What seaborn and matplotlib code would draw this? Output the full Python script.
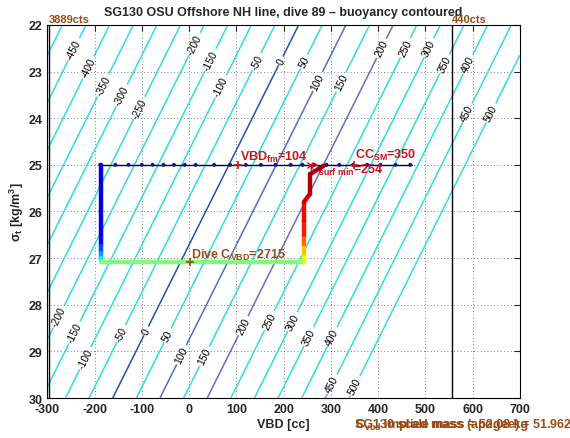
import numpy as np
import matplotlib
matplotlib.use("Agg")
import matplotlib.pyplot as plt
from matplotlib.collections import LineCollection
import seaborn as sns

# buoyancy field: neutral VBD at sigma=22 and shift of neutral VBD per sigma unit
vbd_neutral_22 = 232.0
dvbd_dsigma = 49.2
levels = np.arange(-500, 501, 50)
special_levels = {0: "#1f55a8", 100: "#4d6fcc", 200: "#6b6cc4"}

# contour label positions (vbd, sigma)
label_pos = [(-239, 22.55), (-208, 22.94), (-176, 23.33), (-141, 23.52), (-102, 23.80),
             (18, 22.44), (49, 22.77), (71, 23.34), (145, 22.80), (194, 22.77),
             (247, 22.80), (274, 23.22), (324, 23.23), (411, 22.52), (464, 22.52),
             (514, 22.52), (546, 22.87), (595, 22.87), (592, 23.91), (644, 23.91),
             (-271, 28.27), (-236, 28.63), (-215, 29.17), (-141, 28.63), (-91, 28.56),
             (-42, 28.67), (-11, 29.10), (32, 29.10), (123, 28.49), (173, 28.35),
             (222, 28.38), (257, 28.70), (306, 28.70), (303, 29.70), (352, 29.74)]

# dive trace
trace_vbd = [-187, -187, -187, -187, -187, -187, -187, -187, 243, 243, 243, 243, 243, 243, 256, 256, 285]
trace_sigma = [25.0, 25.5, 26.0, 26.5, 26.75, 26.9, 27.0, 27.08, 27.08, 26.9, 26.7, 26.5, 26.2, 25.8, 25.62, 25.2, 25.02]
trace_t = [0.08, 0.08, 0.08, 0.12, 0.2, 0.28, 0.36, 0.5, 0.63, 0.7, 0.8, 0.88, 0.9, 0.93, 0.95, 0.97]

# surface points
surf_vbd = [-188, -156, -128, -100, -77, -54, -32, -9, 14, 53, 87, 120, 152, 183, 215,
            240, 265, 291, 318, 347, 377, 405, 437, 468]
surf_sigma = 25.0
surf_line = [-188, 472]

vbd_fm = 104
c_surf_min = 254
cc_sm = 350
dive_c_vbd = 2715
dive_c_pt = (2, 27.08)
vbd_min_line = -297
vbd_max_line = 557

brown = "#9a4a14"
red = "#c8141e"

sns.set_style("white")
plt.rcParams["font.family"] = ["Liberation Sans", "DejaVu Sans"]
plt.rcParams["mathtext.fontset"] = "custom"
plt.rcParams["mathtext.rm"] = "Liberation Sans"
plt.rcParams["mathtext.bf"] = "Liberation Sans:bold"
plt.rcParams["mathtext.default"] = "regular"
plt.rcParams["axes.unicode_minus"] = False

fig = plt.figure(figsize=(5.7, 4.39), dpi=100)
ax = fig.add_axes([0.083, 0.091, 0.829, 0.850])
ax.set_xlim(-300, 700)
ax.set_ylim(30, 22)

vv, ss = np.meshgrid(np.linspace(-300, 700, 401), np.linspace(22, 30, 161))
buoy = vv - (vbd_neutral_22 - dvbd_dsigma * (ss - 22))
cols = [special_levels.get(int(l), "#30dce2") for l in levels]
cs = ax.contour(vv, ss, buoy, levels=levels, colors=cols, linewidths=1.1)
labels = ax.clabel(cs, fmt=lambda v: "%d" % v, fontsize=7.5, colors="black", inline=True,
                   inline_spacing=2, manual=label_pos)

# orient labels along the lines as they appear on screen
p1 = ax.transData.transform((0, 22))
p2 = ax.transData.transform((-dvbd_dsigma, 23))
ang = np.degrees(np.arctan2(p2[1] - p1[1], p2[0] - p1[0]))
while ang > 90:
    ang -= 180
while ang <= -90:
    ang += 180
for t in labels:
    t.set_rotation(ang)
    t.set_rotation_mode("anchor")
    t.set_ha("center")
    t.set_va("center")

ax.grid(True, linestyle=(0, (1, 3)), color="#555555", linewidth=0.6)
ax.set_axisbelow(True)

ax.axvline(vbd_min_line, color="black", lw=1)
ax.axvline(vbd_max_line, color="black", lw=1)

ax.plot(surf_line, [surf_sigma, surf_sigma], color="black", lw=1, zorder=4)
sns.scatterplot(x=surf_vbd, y=[surf_sigma] * len(surf_vbd), color="#1414a0", s=8,
                edgecolor="none", ax=ax, zorder=5)

pts = np.column_stack([trace_vbd, trace_sigma])
segs = np.stack([pts[:-1], pts[1:]], axis=1)
lc = LineCollection(segs, cmap="jet", norm=plt.Normalize(0, 1), linewidths=3.2,
                    capstyle="round", zorder=6)
lc.set_array(np.array(trace_t))
ax.add_collection(lc)

ax.plot(vbd_fm, surf_sigma, "+", color=red, ms=6, mew=1.2, zorder=7)
ax.text(vbd_fm + 3, surf_sigma - 0.02, r"VBD$_{fm}$=%d" % vbd_fm, color=red,
        fontsize=9, fontweight="bold", va="bottom", zorder=8)
ax.plot(c_surf_min + 2, surf_sigma, "x", color=red, ms=4, mew=1, zorder=7)
ax.text(c_surf_min, 25.17, r"C$_{surf\ min}$=%d" % c_surf_min, color=red,
        fontsize=9, fontweight="bold", va="baseline", zorder=8)
ax.plot(cc_sm, surf_sigma, "+", color=red, ms=6, mew=1.2, zorder=7)
ax.text(cc_sm + 2, 24.86, r"CC$_{SM}$=%d" % cc_sm, color=red,
        fontsize=9, fontweight="bold", va="baseline", zorder=8)
ax.plot(*dive_c_pt, "+", color=brown, ms=6, mew=1.2, zorder=7)
ax.text(dive_c_pt[0] + 3, 27.0, r"Dive C$_{VBD}$=%d" % dive_c_vbd, color=brown,
        fontsize=9, fontweight="bold", va="baseline", zorder=8)

ax.text(vbd_min_line, 21.98, "3889cts", color=brown, fontsize=8, fontweight="bold", va="bottom")
ax.text(vbd_max_line, 21.98, "440cts", color=brown, fontsize=8, fontweight="bold", va="bottom")

ax.set_xticks(np.arange(-300, 701, 100))
ax.set_yticks(np.arange(22, 31, 1))
ax.tick_params(direction="in", length=4, width=0.8, top=True, right=True,
               labelsize=9)
for lab in ax.get_xticklabels() + ax.get_yticklabels():
    lab.set_fontweight("bold")
for sp in ax.spines.values():
    sp.set_color("black")
    sp.set_linewidth(0.8)

ax.set_xlabel("VBD [cc]", fontsize=9, fontweight="bold", labelpad=2)
ax.set_ylabel(r"$\sigma_t$ [kg/m$^3$]", fontsize=9, fontweight="bold", labelpad=2)
ax.set_title("SG130 OSU Offshore NH line, dive 89 \u2013 buoyancy contoured",
             fontsize=9, fontweight="bold", pad=7)

fig.text(0.623, 0.026, "SG130 scale mass = 52.08 kg", color=brown, fontsize=9,
         fontweight="bold", va="baseline")
fig.text(0.623, 0.024, r"C$_{vbd}$ implied mass (apogee) = 51.962", color=brown,
         fontsize=9, fontweight="bold", va="baseline")

fig.savefig("out.png", dpi=100)
